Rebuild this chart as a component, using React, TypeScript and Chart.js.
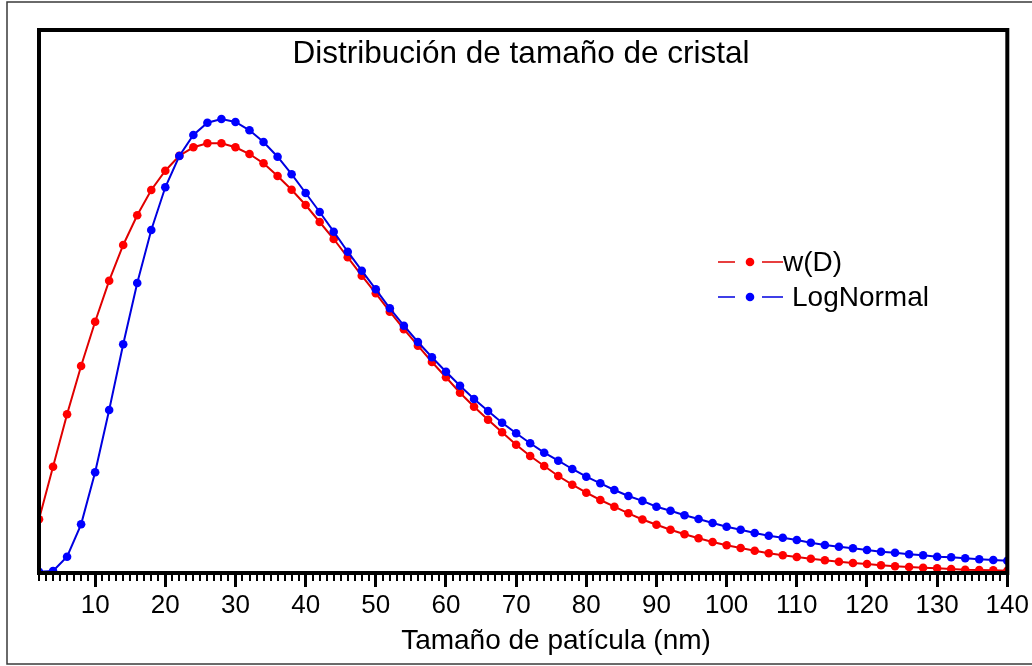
import React, { useEffect, useRef } from "react";
import { Chart, registerables } from "chart.js";

Chart.register(...registerables);

// Particle size (nm)
const sizes = [
  2, 4, 6, 8, 10, 12, 14, 16, 18, 20,
  22, 24, 26, 28, 30, 32, 34, 36, 38, 40,
  42, 44, 46, 48, 50, 52, 54, 56, 58, 60,
  62, 64, 66, 68, 70, 72, 74, 76, 78, 80,
  82, 84, 86, 88, 90, 92, 94, 96, 98, 100,
  102, 104, 106, 108, 110, 112, 114, 116, 118, 120,
  122, 124, 126, 128, 130, 132, 134, 136, 138, 140,
];

// w(D) distribution (arbitrary units)
const wD = [
  53.7, 106.3, 158.7, 207, 251.3, 292.3, 328, 357.7, 383, 402.3,
  417.3, 425.7, 429.7, 429.7, 425.7, 419, 409.7, 397, 383.3, 368,
  351, 334, 315.7, 297.3, 279.7, 261.3, 243.8, 227.3, 211, 195.7,
  180.3, 166.3, 153.3, 140.7, 128.3, 117, 107, 97, 88.3, 80.3,
  73, 66.3, 59.7, 53.5, 48.3, 43.3, 38.7, 34.7, 31, 27.7,
  25, 22.3, 19.7, 17.7, 16, 14.3, 12.7, 11.3, 10, 9,
  7.7, 6.7, 6, 5.3, 4.7, 4, 3.3, 3, 2.7, 2.3,
];

// LogNormal fit (arbitrary units)
const logNormal = [
  1.3, 2, 16.3, 48.7, 100.7, 163, 228.7, 290, 343, 385.7,
  417, 438, 450.3, 454, 451, 442.7, 431, 416.3, 398.8, 380,
  361, 341.3, 321.3, 302.3, 283.7, 264.7, 247.3, 231, 215.7, 201.3,
  187.3, 174, 162, 150.3, 139.7, 129.7, 120.3, 112.3, 104, 96.3,
  89.7, 83, 77, 72.1, 66.3, 62.3, 57.7, 54, 50, 46.3,
  43.3, 40, 37.3, 35.3, 33, 30.3, 28, 26.3, 24.7, 23,
  21.3, 20.3, 18.7, 17.7, 16.3, 15.7, 14.7, 13.7, 13, 12.3,
];

const xTicks = [10, 20, 30, 40, 50, 60, 70, 80, 90, 100, 110, 120, 130, 140];

const titleText = "Distribución de tamaño de cristal";
const xTitle = "Tamaño de patícula (nm)";
const seriesLabels = ["w(D)", "LogNormal"];
const FONT = "'Liberation Sans', Arial, Helvetica, sans-serif";

const decorPlugin = {
  id: "decor",
  afterDraw(chart: any) {
    const { ctx, chartArea, scales } = chart;
    const { left, top, right, bottom } = chartArea;
    const x = scales.x;
    ctx.save();

    // minor ticks
    ctx.strokeStyle = "#000";
    ctx.lineWidth = 2;
    for (let v = Math.ceil(x.min); v <= x.max; v++) {
      if (v % 10 === 0) continue;
      const px = Math.round(x.getPixelForValue(v));
      ctx.beginPath();
      ctx.moveTo(px, bottom);
      ctx.lineTo(px, bottom + 8);
      ctx.stroke();
    }

    // plot frame
    ctx.lineWidth = 4;
    ctx.strokeStyle = "#000";
    ctx.strokeRect(left, top, right - left, bottom - top);

    // outer frame
    ctx.lineWidth = 1.5;
    ctx.strokeStyle = "#3a3a3a";
    ctx.strokeRect(7, 2, 1030, 662);

    // title
    ctx.fillStyle = "#000";
    ctx.font = `31.5px ${FONT}`;
    ctx.textAlign = "center";
    ctx.textBaseline = "alphabetic";
    ctx.fillText(titleText, 521, 63);

    // x-axis title
    ctx.font = `28px ${FONT}`;
    ctx.fillText(xTitle, 556, 649);

    // legend
    const ds = chart.data.datasets;
    const rowsY = [262, 297];
    const textX = [783, 792];
    ctx.font = `28px ${FONT}`;
    ctx.textAlign = "left";
    ctx.textBaseline = "middle";
    for (let i = 0; i < ds.length; i++) {
      const y = rowsY[i];
      ctx.strokeStyle = ds[i].borderColor;
      ctx.lineWidth = 1.5;
      ctx.beginPath();
      ctx.moveTo(718, y);
      ctx.lineTo(735, y);
      ctx.moveTo(762, y);
      ctx.lineTo(783, y);
      ctx.stroke();
      ctx.fillStyle = ds[i].pointBackgroundColor;
      ctx.beginPath();
      ctx.arc(750, y, 4.3, 0, Math.PI * 2);
      ctx.fill();
      ctx.fillStyle = "#000";
      ctx.fillText(ds[i].label, textX[i], y + 1);
    }
    ctx.restore();
  },
};

export default function App() {
  const ref = useRef<HTMLCanvasElement | null>(null);

  useEffect(() => {
    if (!ref.current) return;
    const chart = new Chart(ref.current, {
      type: "line",
      data: {
        datasets: [
          {
            label: seriesLabels[0],
            data: sizes.map((s, i) => ({ x: s, y: wD[i] })),
            borderColor: "#e00000",
            backgroundColor: "#ff0000",
            pointBackgroundColor: "#ff0000",
            pointBorderWidth: 0,
            pointRadius: 4.3,
            borderWidth: 2,
            tension: 0,
            order: 2,
          },
          {
            label: seriesLabels[1],
            data: sizes.map((s, i) => ({ x: s, y: logNormal[i] })),
            borderColor: "#0000e0",
            backgroundColor: "#0000ff",
            pointBackgroundColor: "#0000ff",
            pointBorderWidth: 0,
            pointRadius: 4.3,
            borderWidth: 2,
            tension: 0,
            order: 1,
          },
        ],
      },
      options: {
        responsive: false,
        animation: false,
        layout: { padding: { left: 39, right: 24, top: 30, bottom: 0 } },
        plugins: {
          legend: { display: false },
          tooltip: { enabled: false },
          title: { display: false },
        },
        scales: {
          x: {
            type: "linear",
            min: 2,
            max: 140,
            afterBuildTicks: (scale: any) => {
              scale.ticks = xTicks.map((v) => ({ value: v }));
            },
            afterFit: (scale: any) => {
              scale.height = 93;
            },
            border: { display: false },
            grid: {
              drawOnChartArea: false,
              drawTicks: true,
              tickLength: 14,
              tickWidth: 3,
              tickColor: "#000",
            },
            ticks: {
              autoSkip: false,
              maxRotation: 0,
              padding: 3,
              color: "#000",
              font: { family: FONT, size: 26 },
            },
            title: { display: false, text: xTitle },
          },
          y: {
            display: false,
            min: 0,
            max: 543,
          },
        },
      },
      plugins: [decorPlugin],
    });
    return () => chart.destroy();
  }, []);

  return (
    <div style={{ position: "absolute", left: 0, top: 0, width: 1032, height: 666, background: "#fff" }}>
      <canvas ref={ref} width={1032} height={666} />
    </div>
  );
}
